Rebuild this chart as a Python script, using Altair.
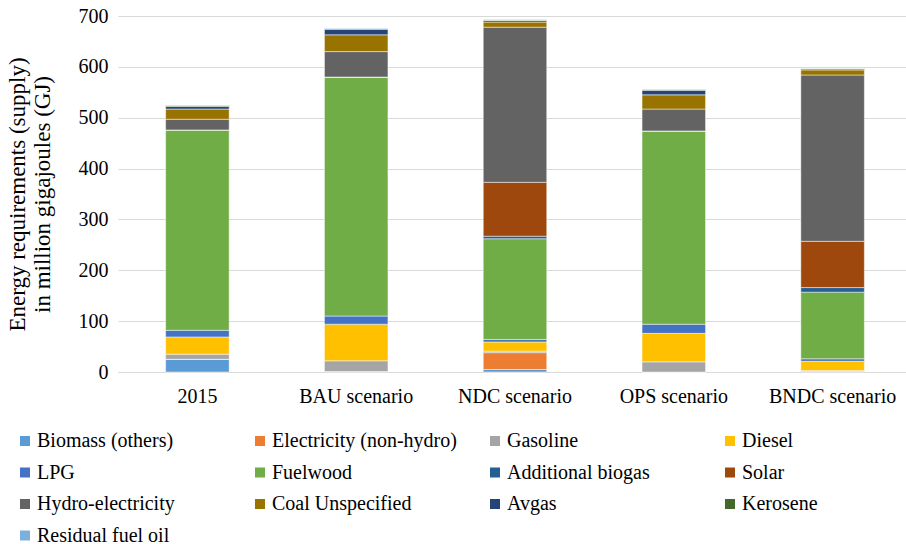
import altair as alt
import pandas as pd

categories = ["2015", "BAU scenario", "NDC scenario", "OPS scenario", "BNDC scenario"]
sources = ["Biomass (others)", "Electricity (non-hydro)", "Gasoline", "Diesel", "LPG",
           "Fuelwood", "Additional biogas", "Solar", "Hydro-electricity",
           "Coal Unspecified", "Avgas", "Kerosene", "Residual fuel oil"]
colors = ["#5B9BD5", "#ED7D31", "#A5A5A5", "#FFC000", "#4472C4", "#70AD47", "#255E91",
          "#9E480E", "#636363", "#997300", "#264478", "#43682B", "#7CAFDD"]

biomass = [25, 1, 5, 0, 1]
electricity = [0, 0, 33, 0, 0]
gasoline = [10, 21, 3, 20, 2]
diesel = [34, 72, 18, 56, 18]
lpg = [13, 16, 5, 18, 5]
fuelwood = [394, 470, 198, 380, 131]
add_biogas = [0, 0, 5, 0, 9]
solar = [0, 0, 106, 0, 91]
hydro = [21, 50, 305, 43, 327]
coal = [20, 33, 10, 28, 10]
avgas = [5, 11, 3, 9, 2]
kerosene = [2, 1, 1, 1, 0.5]
residual = [1, 1, 1, 1, 0.5]

series = [biomass, electricity, gasoline, diesel, lpg, fuelwood, add_biogas, solar,
          hydro, coal, avgas, kerosene, residual]

rows = []
for si, (name, vals) in enumerate(zip(sources, series)):
    for c, v in zip(categories, vals):
        rows.append({"Scenario": c, "Source": name, "Value": v, "order": si})
df = pd.DataFrame(rows)

FONT = "Liberation Serif, Times New Roman, serif"

chart = alt.Chart(df).mark_bar(stroke="white", strokeWidth=0.8, strokeOpacity=0.6).encode(
    x=alt.X("Scenario:N", sort=categories,
            scale=alt.Scale(paddingInner=0.6, paddingOuter=0.3, range=[0, 794]),
            axis=alt.Axis(title=None, labelAngle=0, ticks=False, domainColor="#d9d9d9",
                          domainWidth=1.2, labelFont=FONT, labelFontSize=20,
                          labelColor="black", labelPadding=14)),
    y=alt.Y("sum(Value):Q", scale=alt.Scale(domain=[0, 700], nice=False),
            axis=alt.Axis(title=["Energy requirements (supply)", "in million gigajoules (GJ)"],
                          values=[0, 100, 200, 300, 400, 500, 600, 700],
                          domain=False, ticks=False, gridColor="#d9d9d9", gridWidth=1.2,
                          labelFont=FONT, labelFontSize=20, labelColor="black",
                          labelPadding=10, titleFont=FONT, titleFontSize=23,
                          titleLineHeight=25,
                          titleFontWeight="normal", titleColor="black", titlePadding=24)),
    color=alt.Color("Source:N", sort=sources,
                    scale=alt.Scale(domain=sources, range=colors),
                    legend=alt.Legend(title=None, orient="none", legendX=-103, legendY=415,
                                      direction="horizontal",
                                      columns=4, gridAlign="all", columnPadding=28,
                                      rowPadding=11.5, symbolType="square", symbolSize=100,
                                      symbolStrokeWidth=0, labelFont=FONT, labelFontSize=20,
                                      labelColor="black", labelLimit=400, symbolOffset=0,
                                      labelOffset=2)),
    order=alt.Order("order:Q", sort="ascending"),
).properties(
    width=787, height=356,
    autosize=alt.AutoSizeParams(type="none"),
    padding={"left": 118, "top": 16, "right": 1, "bottom": 172},
).configure_view(stroke=None)

chart.save("out.html", embed_options={"renderer": "svg", "actions": False})
